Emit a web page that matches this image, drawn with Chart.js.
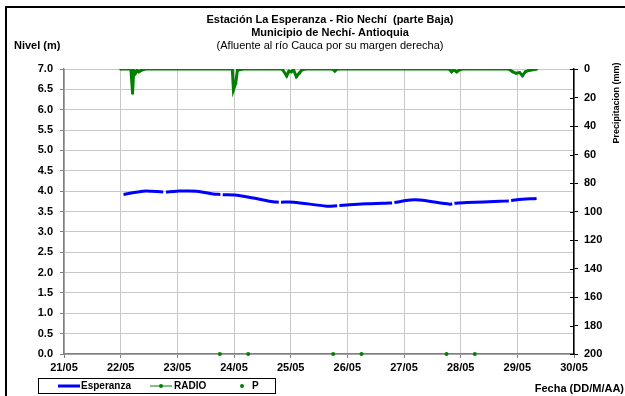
<!DOCTYPE html>
<html>
<head>
<meta charset="utf-8">
<title>Estación La Esperanza - Rio Nechí</title>
<script src="https://cdn.jsdelivr.net/npm/chart.js@4"></script>
<style>
  html, body { margin: 0; padding: 0; background: #fff; }
  #wrap { position: relative; width: 625px; height: 396px; overflow: hidden; }
</style>
</head>
<body>
<div id="wrap"><canvas id="grafico" width="625" height="396"></canvas></div>
<script>
/* ─── Datos ─────────────────────────────────────────────────────────── */
const diasEtiquetas = ['21/05','22/05','23/05','24/05','25/05','26/05','27/05','28/05','29/05','30/05'];

// Nivel Esperanza (m) — null = hueco en la serie
const esperanzaDia   = [22.05, 22.40, 22.75, 22.77, 22.80, 22.99, 23.34, 23.63, 23.76, 23.78, 23.80, 24.05, 24.34, 24.69, 24.79, 24.81, 24.83, 25.05, 25.64, 25.82, 25.84, 25.86, 25.99, 26.34, 26.63, 26.79, 26.81, 26.83, 27.11, 27.28, 27.81, 27.85, 27.87, 27.89, 28.11, 28.69, 28.85, 28.87, 28.89, 28.99, 29.34];
const esperanzaNivel = [3.92, 4.00, 3.98, null, 3.98, 4.00, 4.00, 3.93, 3.92, null, 3.91, 3.90, 3.83, 3.74, 3.73, null, 3.73, 3.73, 3.63, 3.64, null, 3.65, 3.66, 3.69, 3.70, 3.71, null, 3.72, 3.78, 3.78, 3.68, 3.69, null, 3.70, 3.72, 3.75, 3.76, null, 3.77, 3.79, 3.82];

// Precipitación RADIO (mm)
const radioDia = [22.00, 22.18, 22.21, 22.23, 22.26, 22.29, 22.32, 22.36, 22.42, 23.97, 23.99, 24.03, 24.06, 24.15, 24.85, 24.93, 24.97, 25.01, 25.05, 25.10, 25.15, 25.20, 25.25, 25.74, 25.78, 25.82, 27.80, 27.84, 27.88, 27.93, 27.98, 28.02, 28.85, 28.92, 28.98, 29.04, 29.09, 29.14, 29.20, 29.27, 29.34];
const radioMm  = [0, 0, 17, 1, 3, 1, 2, 1, 0, 0, 14.7, 10, 1, 0, 0, 4.9, 1.5, 2, 0.5, 5.4, 3, 0.5, 0, 0, 1.4, 0, 0, 2, 0.5, 2, 0.5, 0, 0, 2, 3, 2.5, 4.7, 2, 1, 0.5, 0];

// Serie P (puntos sobre el eje)
const pDia = [23.75, 24.25, 25.75, 26.25, 27.75, 28.25];
const pMm  = [200, 200, 200, 200, 200, 200];

/* ─── Estilos ───────────────────────────────────────────────────────── */
const FUENTE = '"Liberation Sans", Arial, sans-serif';
const AZUL = '#0000ff', VERDE = '#008000', GRIS = '#c8c8c8';

const aPuntos = (xs, ys) => xs.map((x, i) => ({ x, y: ys[i] }));

/* ─── Plugin: marco, títulos, leyenda ───────────────────────────────── */
const decoracion = {
  id: 'decoracion',
  beforeDraw(chart) {
    const ctx = chart.ctx;
    ctx.save();
    ctx.fillStyle = '#fff';
    ctx.fillRect(0, 0, chart.width, chart.height);
    ctx.restore();
  },
  afterDraw(chart) {
    const ctx = chart.ctx;
    const area = chart.chartArea;
    ctx.save();

    // marco exterior
    ctx.fillStyle = '#000';
    ctx.fillRect(5, 6, 625, 2);
    ctx.fillRect(5, 6, 2, 396);

    // títulos
    ctx.fillStyle = '#000';
    ctx.textAlign = 'center';
    ctx.textBaseline = 'middle';
    ctx.font = 'bold 11px ' + FUENTE;
    ctx.fillText('Estación La Esperanza - Rio Nechí  (parte Baja)', 330, 20);
    ctx.fillText('Municipio de Nechí- Antioquia', 330, 33);
    ctx.font = '11px ' + FUENTE;
    ctx.fillText('(Afluente al río Cauca por su margen derecha)', 330, 46);

    ctx.textAlign = 'left';
    ctx.font = 'bold 11px ' + FUENTE;
    ctx.fillText('Nivel (m)', 14, 46);

    ctx.textAlign = 'right';
    ctx.fillText('Fecha (DD/M/AA)', 624, 389);

    ctx.save();
    ctx.translate(617, 103);
    ctx.rotate(-Math.PI / 2);
    ctx.textAlign = 'center';
    ctx.font = 'bold 9px ' + FUENTE;
    ctx.fillText('Precipitacion (mm)', 0, 0);
    ctx.restore();

    // marcas interiores del eje derecho (cruzan el eje)
    const y2 = chart.scales.y2;
    ctx.strokeStyle = '#000';
    ctx.lineWidth = 1;
    y2.ticks.forEach(t => {
      const y = Math.round(y2.getPixelForValue(t.value)) + 0.5;
      ctx.beginPath();
      ctx.moveTo(area.right - 4, y);
      ctx.lineTo(area.right, y);
      ctx.stroke();
    });

    // leyenda
    const ly = 386;
    ctx.strokeStyle = '#000';
    ctx.lineWidth = 1;
    ctx.strokeRect(38.5, 378.5, 237, 15);
    ctx.font = 'bold 10px ' + FUENTE;
    ctx.textAlign = 'left';

    ctx.strokeStyle = AZUL; ctx.lineWidth = 3;
    ctx.beginPath(); ctx.moveTo(58, ly); ctx.lineTo(80, ly); ctx.stroke();
    ctx.fillStyle = '#000';
    ctx.fillText('Esperanza', 81, ly);

    ctx.strokeStyle = VERDE; ctx.lineWidth = 1;
    ctx.beginPath(); ctx.moveTo(150, ly); ctx.lineTo(172, ly); ctx.stroke();
    ctx.fillStyle = VERDE;
    ctx.beginPath(); ctx.arc(161, ly, 2, 0, Math.PI * 2); ctx.fill();
    ctx.fillStyle = '#000';
    ctx.fillText('RADIO', 174, ly);

    ctx.fillStyle = VERDE;
    ctx.beginPath(); ctx.arc(242, ly, 2, 0, Math.PI * 2); ctx.fill();
    ctx.fillStyle = '#000';
    ctx.fillText('P', 252, ly);

    ctx.restore();
  }
};

/* ─── Gráfico ───────────────────────────────────────────────────────── */
new Chart(document.getElementById('grafico'), {
  type: 'line',
  data: {
    datasets: [
      {
        label: 'Esperanza',
        data: aPuntos(esperanzaDia, esperanzaNivel),
        yAxisID: 'y',
        borderColor: AZUL,
        borderWidth: 3,
        pointRadius: 0,
        spanGaps: false,
        tension: 0.3,
      },
      {
        label: 'RADIO',
        data: aPuntos(radioDia, radioMm),
        yAxisID: 'y2',
        borderColor: VERDE,
        backgroundColor: VERDE,
        borderWidth: 3,
        pointRadius: 1.5,
        pointBorderWidth: 0,
        tension: 0,
      },
      {
        label: 'P',
        data: aPuntos(pDia, pMm),
        yAxisID: 'y2',
        showLine: false,
        borderColor: VERDE,
        backgroundColor: VERDE,
        pointRadius: 2,
        pointBorderWidth: 0,
        clip: false,
      },
    ]
  },
  options: {
    responsive: false,
    animation: false,
    devicePixelRatio: 1,
    layout: { padding: { top: 69, left: 0, right: 0, bottom: 0 } },
    plugins: {
      legend: { display: false },
      title: { display: false },
      tooltip: { enabled: false },
    },
    scales: {
      x: {
        type: 'linear',
        min: 21, max: 30,
        afterFit: s => { s.height = 42; },
        ticks: {
          stepSize: 1,
          padding: 3,
          color: '#000',
          font: { family: FUENTE, size: 11, weight: 'bold' },
          callback: v => diasEtiquetas[Math.round(v) - 21],
        },
        grid: { color: GRIS, lineWidth: 1, tickLength: 4, tickColor: '#808080' },
        border: { color: '#808080', width: 1.5 },
      },
      y: {
        position: 'left',
        min: 0, max: 7,
        afterFit: s => { s.width = 64; },
        ticks: {
          stepSize: 0.5,
          padding: 7,
          color: '#000',
          font: { family: FUENTE, size: 11, weight: 'bold' },
          callback: v => v.toFixed(1),
        },
        grid: { color: GRIS, lineWidth: 1, tickLength: 4, tickColor: '#808080' },
        border: { color: '#808080', width: 1.5 },
      },
      y2: {
        position: 'right',
        min: 0, max: 200,
        reverse: true,
        afterFit: s => { s.width = 51; },
        ticks: {
          stepSize: 20,
          padding: 6,
          color: '#000',
          font: { family: FUENTE, size: 11, weight: 'bold' },
        },
        grid: { drawOnChartArea: false, tickLength: 4, tickColor: '#000' },
        border: { color: '#000', width: 1.5 },
      },
    }
  },
  plugins: [decoracion]
});
</script>
</body>
</html>
